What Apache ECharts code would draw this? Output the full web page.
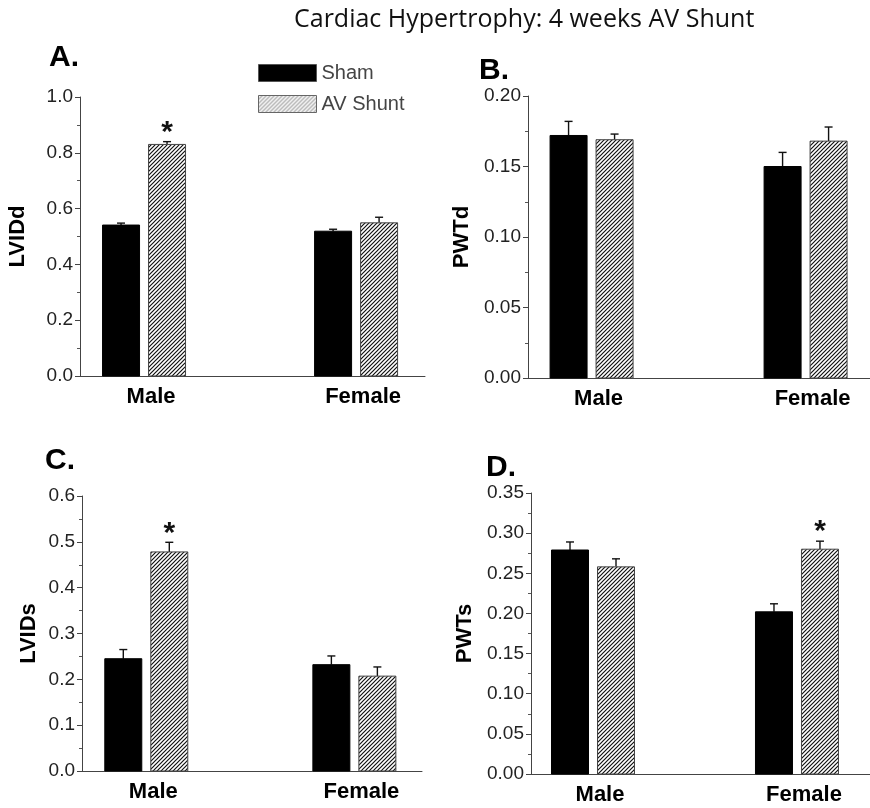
<!DOCTYPE html>
<html>
<head>
<meta charset="utf-8">
<title>Cardiac Hypertrophy: 4 weeks AV Shunt</title>
<script src="https://cdn.jsdelivr.net/npm/echarts@6/dist/echarts.min.js"></script>
<style>
  html, body { margin: 0; padding: 0; background: #fff; }
  #chart { width: 870px; height: 808px; }
</style>
</head>
<body>
<div id="chart"></div>
<script>
// categories and groups
const groups = ['Male', 'Female'];
const groupPos = [1, 2];
const seriesNames = ['Sham', 'AV Shunt'];

// A. LVIDd
const lviddSham = [0.541, 0.519];
const lviddShamErr = [0.007, 0.007];
const lviddShunt = [0.830, 0.549];
const lviddShuntErr = [0.010, 0.020];
const lviddStar = [1, 0];
const lviddTicks = [0.0, 0.2, 0.4, 0.6, 0.8, 1.0];

// B. PWTd
const pwtdSham = [0.172, 0.150];
const pwtdShamErr = [0.010, 0.010];
const pwtdShunt = [0.169, 0.168];
const pwtdShuntErr = [0.004, 0.010];
const pwtdStar = [0, 0];
const pwtdTicks = [0.00, 0.05, 0.10, 0.15, 0.20];

// C. LVIDs
const lvidsSham = [0.245, 0.232];
const lvidsShamErr = [0.020, 0.019];
const lvidsShunt = [0.478, 0.207];
const lvidsShuntErr = [0.021, 0.020];
const lvidsStar = [1, 0];
const lvidsTicks = [0.0, 0.1, 0.2, 0.3, 0.4, 0.5, 0.6];

// D. PWTs
const pwtsSham = [0.279, 0.202];
const pwtsShamErr = [0.010, 0.010];
const pwtsShunt = [0.258, 0.280];
const pwtsShuntErr = [0.010, 0.010];
const pwtsStar = [0, 1];
const pwtsTicks = [0.00, 0.05, 0.10, 0.15, 0.20, 0.25, 0.30, 0.35];

const panels = [
  { letter: 'A.', yName: 'LVIDd', sham: lviddSham, shamErr: lviddShamErr, shunt: lviddShunt, shuntErr: lviddShuntErr, star: lviddStar, ticks: lviddTicks, dec: 1,
    grid: { left: 80, top: 97, width: 345, height: 279 }, xRange: [0.698, 2.325], letterPos: [44, 38], nameGap: 51 },
  { letter: 'B.', yName: 'PWTd', sham: pwtdSham, shamErr: pwtdShamErr, shunt: pwtdShunt, shuntErr: pwtdShuntErr, star: pwtdStar, ticks: pwtdTicks, dec: 2,
    grid: { left: 528, top: 96, width: 342, height: 282 }, xRange: [0.703, 2.301], letterPos: [474, 51], nameGap: 55 },
  { letter: 'C.', yName: 'LVIDs', sham: lvidsSham, shamErr: lvidsShamErr, shunt: lvidsShunt, shuntErr: lvidsShuntErr, star: lvidsStar, ticks: lvidsTicks, dec: 1,
    grid: { left: 82, top: 496, width: 340, height: 275 }, xRange: [0.691, 2.325], letterPos: [40, 441], nameGap: 42 },
  { letter: 'D.', yName: 'PWTs', sham: pwtsSham, shamErr: pwtsShamErr, shunt: pwtsShunt, shuntErr: pwtsShuntErr, star: pwtsStar, ticks: pwtsTicks, dec: 2,
    grid: { left: 531, top: 493, width: 339, height: 281 }, xRange: [0.696, 2.358], letterPos: [481, 448], nameGap: 55 }
];

const BAR_W = 37;
const BAR_OFF = 23;

function makeHatch(lineColor, bg, lw) {
  const c = document.createElement('canvas');
  c.width = 4; c.height = 4;
  const ctx = c.getContext('2d');
  ctx.fillStyle = bg;
  ctx.fillRect(0, 0, 4, 4);
  ctx.strokeStyle = lineColor;
  ctx.lineWidth = lw;
  ctx.beginPath();
  ctx.moveTo(-1, 5); ctx.lineTo(5, -1);
  ctx.moveTo(-1, 1); ctx.lineTo(1, -1);
  ctx.moveTo(3, 5); ctx.lineTo(5, 3);
  ctx.stroke();
  return { image: c, repeat: 'repeat' };
}
const hatch = makeHatch('#111', '#fff', 1.2);
const legendHatch = makeHatch('#888', '#f0f0f0', 1);

function barRenderer(offset, fill, stroke) {
  return function (params, api) {
    const x = api.value(0), v = api.value(1), e = api.value(2);
    const base = api.coord([x, 0]);
    const top = api.coord([x, v]);
    const errTop = api.coord([x, v + e]);
    const cx = base[0] + offset;
    const children = [
      { type: 'line', shape: { x1: cx, y1: top[1], x2: cx, y2: errTop[1] }, style: { stroke: '#111', lineWidth: 1.4 } },
      { type: 'line', shape: { x1: cx - 4, y1: errTop[1], x2: cx + 4, y2: errTop[1] }, style: { stroke: '#111', lineWidth: 1.4 } },
      { type: 'rect', shape: { x: cx - BAR_W / 2, y: top[1], width: BAR_W, height: base[1] - top[1] },
        style: { fill: fill, stroke: stroke, lineWidth: 1 } }
    ];
    if (api.value(3)) {
      children.push({ type: 'text', x: cx, y: errTop[1] + 6,
        style: { text: '*', fill: '#111', font: 'bold 30px "Liberation Sans", Arial, sans-serif', align: 'center', verticalAlign: 'bottom' } });
    }
    return { type: 'group', children: children };
  };
}

const grids = [], xAxes = [], yAxes = [], series = [];
const titles = [{
  text: 'Cardiac Hypertrophy: 4 weeks AV Shunt', left: 289, top: 2,
  textStyle: { fontFamily: 'Open Sans', fontWeight: 'normal', fontSize: 25, color: '#111' }
}];

panels.forEach((p, i) => {
  grids.push(Object.assign({ containLabel: false }, p.grid));
  titles.push({ text: p.letter, left: p.letterPos[0], top: p.letterPos[1],
    textStyle: { fontFamily: 'Liberation Sans', fontWeight: 'bold', fontSize: 30, color: '#000' } });
  const interval = p.ticks[1] - p.ticks[0];
  xAxes.push({
    gridIndex: i, type: 'value', min: p.xRange[0], max: p.xRange[1],
    axisLine: { show: true, onZero: false, lineStyle: { color: '#444', width: 1 } },
    axisTick: { show: false },
    splitLine: { show: false },
    axisLabel: {
      customValues: groupPos,
      formatter: (v) => groups[Math.round(v) - 1],
      fontFamily: 'Liberation Sans', fontWeight: 'bold', fontSize: 22, color: '#000',
      margin: 10, padding: [0, 0, 0, 14]
    }
  });
  yAxes.push({
    gridIndex: i, type: 'value', min: p.ticks[0], max: p.ticks[p.ticks.length - 1], interval: interval,
    name: p.yName, nameLocation: 'middle', nameGap: p.nameGap,
    nameTextStyle: { fontFamily: 'Liberation Sans', fontWeight: 'bold', fontSize: 22, color: '#000' },
    axisLine: { show: true, lineStyle: { color: '#444', width: 1 } },
    axisTick: { show: true, length: 5, lineStyle: { color: '#444' } },
    minorTick: { show: true, splitNumber: 2, length: 3, lineStyle: { color: '#555' } },
    splitLine: { show: false },
    axisLabel: { fontFamily: 'Liberation Sans', fontSize: 19, color: '#222', margin: 7,
      formatter: (v) => v.toFixed(p.dec) }
  });
  series.push({
    name: seriesNames[0], type: 'custom', xAxisIndex: i, yAxisIndex: i,
    itemStyle: { color: '#000' },
    renderItem: barRenderer(-BAR_OFF, '#000', '#000'),
    data: groupPos.map((g, k) => [g, p.sham[k], p.shamErr[k], 0])
  });
  series.push({
    name: seriesNames[1], type: 'custom', xAxisIndex: i, yAxisIndex: i,
    itemStyle: { color: hatch },
    renderItem: barRenderer(BAR_OFF, hatch, '#444'),
    data: groupPos.map((g, k) => [g, p.shunt[k], p.shuntErr[k], p.star[k]])
  });
});

const chart = echarts.init(document.getElementById('chart'), null, { renderer: 'canvas' });
chart.setOption({
  animation: false,
  backgroundColor: '#fff',
  title: titles,
  legend: {
    left: 253, top: 58, orient: 'vertical', itemGap: 11,
    itemWidth: 58, itemHeight: 17, icon: 'rect',
    textStyle: { fontFamily: 'Liberation Sans', fontSize: 20, color: '#444' },
    data: [
      { name: seriesNames[0], itemStyle: { color: '#000', borderColor: '#555', borderWidth: 1 } },
      { name: seriesNames[1], itemStyle: { color: legendHatch, borderColor: '#666', borderWidth: 1 } }
    ]
  },
  grid: grids,
  xAxis: xAxes,
  yAxis: yAxes,
  series: series
});
</script>
</body>
</html>
